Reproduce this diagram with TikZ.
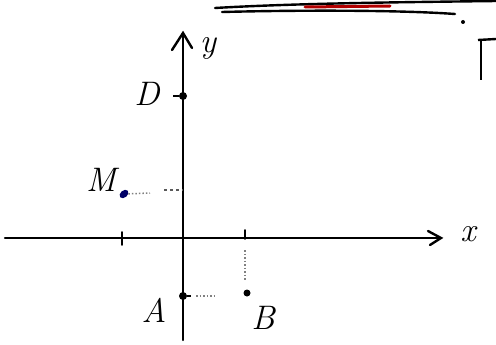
\documentclass[tikz,border=0pt]{standalone}
\usepackage{fontspec}
\usetikzlibrary{arrows.meta,shapes.geometric}
\begin{document}
\begin{tikzpicture}[x=1pt,y=-1pt,
  axis/.style={line width=2.4pt,black,line cap=round},
  pt/.style={circle,fill=black,inner sep=0pt,minimum size=8pt},
  lbl/.style={font=\fontsize{34}{34}\selectfont\itshape},
  guide/.style={line width=1.5pt,dotted,gray}]
\useasboundingbox (0,0) rectangle (496,345);
% top strokes
\draw[line width=2.4pt,line cap=round] (215,8) .. controls (300,3) and (420,2) .. (496,1);
\draw[line width=2.4pt,line cap=round] (222,12) .. controls (300,10) and (400,10) .. (455,14);
\draw[line width=3pt,red!70!black,line cap=round] (305,7) -- (390,6);
\node[circle,fill=black,inner sep=0pt,minimum size=4pt] (dot) at (463,22) {};
\draw[line width=2.4pt] (478,40) -- (496,39);
\draw[line width=2.4pt] (481,40) -- (481,80);
% axes
\coordinate (ybot) at (183,340);
\coordinate (ytop) at (183,33);
\coordinate (xl) at (5,238);
\coordinate (xr) at (441,238);
\draw[axis] (ybot) -- (ytop);
\draw[axis] (172,50) -- (ytop) -- (192,48);
\draw[axis] (xl) -- (xr);
\draw[axis] (428,231) -- (xr) -- (430,245);
\node[lbl] (ylab) at (208,48) {y};
\node[lbl] (xlab) at (468,234) {x};
% ticks
\coordinate (t1) at (122,238);
\coordinate (t2) at (245,238);
\draw[axis,line width=1.8pt] ([yshift=-7]t1) -- ([yshift=6]t1);
\draw[axis,line width=1.8pt] ([yshift=-1]t2) -- ([yshift=8]t2);
% D
\node[pt] (D) at (183,96) {};
\draw[line width=2pt] (173,96) -- (D);
\node[lbl] (Dl) at (147,94) {D};
% M
\node[ellipse,fill=blue!40!black,inner sep=0pt,minimum width=10pt,minimum height=7pt,rotate=40] (M) at (124,194) {};
\node[lbl] (Ml) at (101,180) {M};
\coordinate (My) at (183,190);
\draw[guide] (M) -- (150,193);
\draw[line width=1.5pt,dashed,gray!70!black] (164,190) -- (My);
% A and B
\node[pt] (A) at (183,296) {};
\draw[line width=2pt] (A) -- (191,296);
\node[lbl] (Al) at (154,310) {A};
\node[pt,minimum size=7pt] (B) at (247,293) {};
\node[lbl] (Bl) at (263,318) {B};
\draw[guide] (196,296) -- (216,296);
\draw[guide] (245,250) -- (245,280);
\end{tikzpicture}
\end{document}
